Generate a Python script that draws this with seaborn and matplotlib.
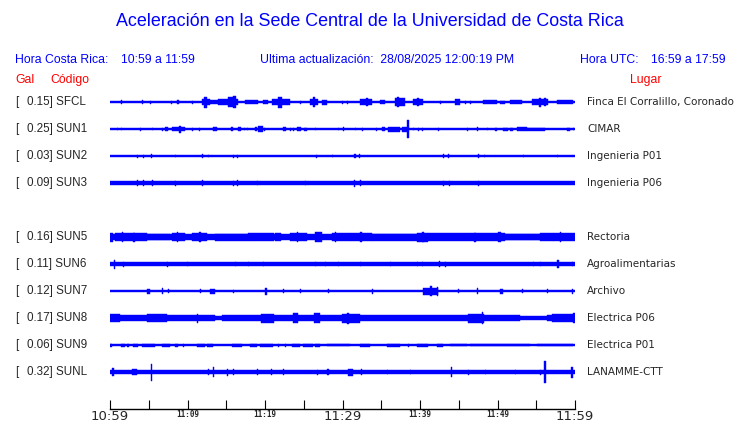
import numpy as np
import pandas as pd
import matplotlib
matplotlib.use("Agg")
import matplotlib.pyplot as plt
import seaborn as sns

# ===============================
# DATA (minutes after 10:59, half amplitude in px)
# ===============================
stations = ["SFCL", "SUN1", "SUN2", "SUN3", "SUN5", "SUN6", "SUN7", "SUN8", "SUN9", "SUNL"]
gal = [0.15, 0.25, 0.03, 0.09, 0.16, 0.11, 0.12, 0.17, 0.06, 0.32]
places = ["Finca El Corralillo, Coronado", "CIMAR", "Ingenieria P01", "Ingenieria P06",
          "Rectoria", "Agroalimentarias", "Archivo", "Electrica P06", "Electrica P01",
          "LANAMME-CTT"]
rows = [0, 1, 2, 3, 5, 6, 7, 8, 9, 10]
base_amp = [0.6, 0.6, 0.6, 1.7, 3.0, 1.7, 1.4, 2.2, 0.6, 2.0]

tick_minutes = list(range(0, 61, 5))
tick_labels = ["10:59", "", "11:09", "", "11:19", "", "11:29", "", "11:39", "", "11:49", "", "11:59"]
big_ticks = ["10:59", "11:29", "11:59"]

# (start, end, half amplitude)
sfcl_events = [
    (1.38, 1.38, 2), (4.13, 4.13, 2), (5.16, 5.16, 1.5), (7.87, 7.87, 1.5), (8.65, 8.9, 2),
    (10.58, 10.58, 1.5), (11.87, 12.13, 3), (12.13, 12.52, 5.5), (12.52, 12.9, 3),
    (12.9, 13.94, 2), (13.94, 15.23, 3), (15.23, 15.9, 5), (15.9, 16.3, 6), (16.3, 16.52, 3),
    (17.42, 19.1, 2), (19.74, 20.39, 2), (20.9, 21.68, 3), (21.68, 22.19, 5.5),
    (22.19, 23.23, 3), (24.52, 24.52, 1.5), (25.81, 26.19, 3), (26.19, 26.45, 5),
    (26.45, 26.84, 3), (27.35, 28.0, 2.5), (29.94, 29.94, 1.5), (30.58, 30.58, 1.5),
    (32.26, 33.81, 3), (33.0, 33.3, 4), (34.84, 35.48, 2), (36.77, 37.03, 4),
    (37.03, 37.3, 5), (37.3, 38.06, 4), (39.1, 40.39, 3), (39.6, 39.9, 4),
    (42.58, 42.58, 1.5), (44.52, 45.16, 3), (45.81, 45.81, 1.5), (46.45, 46.45, 1.5),
    (48.13, 49.94, 2), (50.32, 50.97, 1.5), (51.61, 53.16, 2), (54.45, 56.52, 3),
    (55.3, 55.6, 4.5), (56.0, 56.2, 4), (57.68, 59.74, 2),
]
sun1_events = [
    (0.9, 0.9, 1), (1.42, 1.42, 1), (3.87, 3.87, 1.5), (5.42, 5.42, 1), (6.71, 6.71, 1.5),
    (7.1, 7.48, 2), (8.0, 9.68, 2), (8.9, 9.2, 3.5), (10.58, 10.58, 1.5), (11.48, 11.48, 1.5),
    (13.29, 13.81, 2), (15.61, 15.87, 2), (16.52, 16.9, 2), (17.29, 17.29, 1),
    (17.68, 17.68, 1), (18.71, 18.97, 2), (19.1, 19.74, 3), (19.87, 19.87, 1.5),
    (22.32, 22.71, 2), (23.23, 23.23, 1.5), (23.61, 23.61, 1.5), (24.13, 24.65, 2),
    (25.03, 25.42, 1.5), (26.45, 26.45, 1), (29.42, 29.42, 1), (30.06, 30.06, 2),
    (31.61, 31.61, 1), (32.52, 32.52, 1.5), (34.32, 34.32, 1.5), (35.1, 35.48, 2),
    (35.87, 37.42, 2.5), (37.68, 38.45, 2.5), (38.36, 38.36, 9), (39.1, 39.1, 1),
    (39.74, 39.74, 1.5), (40.26, 40.26, 1.5), (42.32, 42.32, 1.5), (46.06, 46.06, 1.5),
    (47.35, 47.48, 2), (48.65, 48.65, 1), (49.68, 49.94, 1.5), (50.71, 51.35, 1.5),
    (51.61, 52.0, 1.5), (52.52, 53.81, 2), (53.81, 56.13, 1.5), (58.97, 59.35, 1.5),
    (59.74, 59.74, 1),
]
sun2_events = [
    (3.48, 3.48, 1.5), (4.26, 4.26, 1.5), (5.29, 5.42, 2), (8.39, 8.39, 1), (11.87, 12.0, 2),
    (12.65, 12.65, 1), (15.87, 15.87, 1.5), (16.39, 16.39, 1.5), (26.58, 26.58, 1.5),
    (28.65, 28.65, 1), (31.48, 31.74, 2), (32.13, 32.13, 2), (42.97, 42.97, 2),
    (43.61, 43.61, 2), (47.48, 47.48, 2), (48.26, 48.26, 1), (53.29, 53.29, 1),
    (57.68, 57.68, 1),
]
sun3_events = [
    (3.48, 3.48, 3), (4.26, 4.26, 3), (5.42, 5.42, 3), (8.39, 8.39, 2.5), (11.87, 12.0, 3),
    (15.87, 15.87, 2.5), (16.39, 16.39, 3), (18.97, 18.97, 2), (25.16, 25.16, 2),
    (31.48, 31.48, 3.5), (32.26, 32.26, 3), (42.97, 42.97, 2.5), (43.74, 43.74, 2.5),
    (47.48, 47.48, 2.5),
]
sun5_events = [
    (0, 0.4, 4.5), (0.6, 4.8, 3.8), (1.5, 1.7, 5), (3.0, 3.2, 4.5), (4.8, 7.7, 3.4),
    (8.0, 9.7, 4), (8.6, 8.8, 5), (10.6, 12.5, 4), (11.5, 11.7, 5), (13.5, 17.8, 3.5),
    (17.8, 21.1, 3.8), (21.3, 22.0, 4), (23.2, 25.4, 4), (24.1, 24.3, 4.8),
    (26.5, 27.3, 5), (28.6, 31.0, 4), (29.0, 29.2, 5), (31.0, 33.8, 4), (32.2, 32.5, 5.3),
    (33.8, 39.6, 3.5), (39.6, 41.0, 4.5), (40.3, 40.5, 5), (41.0, 50.97, 3.8),
    (47.0, 47.2, 4.5), (50.1, 50.4, 4.8), (50.97, 55.5, 3.4), (55.5, 57.2, 3.6),
    (57.2, 60.0, 4), (58.0, 58.2, 4.8),
]
sun6_events = [
    (0.52, 0.52, 4.5), (1.68, 1.68, 2.5), (7.35, 7.35, 2.5), (9.94, 9.94, 2),
    (16.13, 16.13, 2), (17.81, 17.81, 2), (19.74, 19.74, 2), (26.45, 26.45, 2),
    (27.74, 27.74, 2), (29.42, 29.42, 2), (32.26, 32.26, 2), (36.13, 36.13, 2),
    (39.61, 39.61, 2), (40.26, 40.26, 2), (42.45, 42.45, 3), (43.23, 43.4, 2.5),
    (54.58, 54.58, 2), (55.48, 55.48, 2), (57.7, 57.95, 4), (59.61, 59.61, 2),
]
sun7_events = [
    (4.77, 5.16, 2.5), (6.71, 6.71, 3), (7.48, 7.48, 2), (11.61, 11.61, 2),
    (12.9, 13.55, 2.5), (15.87, 15.87, 1.5), (20.0, 20.26, 3.5), (22.32, 22.32, 2),
    (24.52, 24.52, 2), (28.13, 28.13, 2), (33.81, 33.81, 2.5), (40.39, 42.32, 3.5),
    (41.3, 41.6, 5), (42.2, 42.35, 4.5), (44.9, 44.9, 2), (47.35, 47.35, 3),
    (50.32, 50.71, 2.5), (53.16, 53.16, 2), (56.39, 56.39, 2), (59.61, 59.61, 2.5),
]
sun8_events = [
    (0, 13.6, 3.2), (14.5, 52.9, 3.2), (56.4, 60.0, 3.4), (0, 1.3, 4), (4.8, 7.35, 4),
    (11.2, 11.4, 4.5), (19.5, 21.1, 4.5), (23.6, 24.2, 5), (26.3, 27.1, 5),
    (29.94, 32.26, 4.5), (30.6, 30.8, 5.5), (46.2, 48.3, 4.5), (48.0, 48.1, 6),
    (57.0, 60.0, 3.8), (59.7, 60.0, 5),
]
sun9_events = [
    (0, 0.26, 1.5), (1.42, 1.94, 1.5), (2.2, 2.45, 1.5), (2.97, 3.61, 1.5), (4.13, 5.81, 1.5),
    (6.71, 7.74, 1.5), (8.39, 8.77, 1.5), (9.4, 9.4, 1.5), (11.23, 12.26, 1.5),
    (12.52, 13.29, 1.5), (15.74, 17.03, 1.5), (18.06, 18.97, 1.5), (19.35, 21.03, 1.5),
    (21.68, 21.68, 1.5), (22.58, 22.58, 1.5), (23.48, 24.52, 1.5), (24.9, 26.19, 1.5),
    (26.45, 27.1, 1.5), (28.0, 30.97, 1.3), (32.26, 33.55, 1.5), (35.74, 37.42, 1.5),
    (38.45, 38.45, 1.5), (39.61, 41.03, 1.5), (42.19, 42.97, 1.5), (43.87, 46.06, 1.3),
    (46.45, 54.19, 1.3), (55.1, 59.74, 1.3),
]
sunl_events = [
    (0.26, 0.52, 4), (2.84, 3.48, 3), (5.25, 5.25, 8.5), (12.65, 12.65, 3), (13.29, 13.29, 5),
    (15.1, 15.1, 3.5), (15.87, 15.87, 3), (18.97, 18.97, 3), (20.77, 20.77, 3),
    (22.32, 22.32, 3), (26.71, 26.71, 2.5), (28.0, 28.2, 3), (30.71, 31.35, 3.5),
    (32.39, 32.39, 3), (35.74, 35.74, 2), (38.71, 38.71, 2), (43.97, 44.13, 5),
    (46.19, 46.19, 2.5), (48.39, 48.39, 2), (52.26, 52.26, 2), (55.48, 55.48, 2.5),
    (56.04, 56.04, 11), (59.5, 59.74, 5.5),
]
events = [sfcl_events, sun1_events, sun2_events, sun3_events, sun5_events,
          sun6_events, sun7_events, sun8_events, sun9_events, sunl_events]

# ===============================
# STYLE
# ===============================
sns.set_style("white")
plt.rcParams["font.family"] = ["Liberation Sans", "DejaVu Sans"]
BLUE = "#0000ff"
W, H = 740, 423


def fx(px):
    return px / W


def fy(py):
    return 1 - py / H


fig = plt.figure(figsize=(7.4, 4.23), dpi=100)
ax = fig.add_axes([fx(110), fy(409), (575 - 110) / W, (409 - 85) / H])
ax.set_xlim(0, 60)
ax.set_ylim(409, 85)

# ===============================
# TRACES
# ===============================
for i, name in enumerate(stations):
    yc = 102 + 27 * rows[i]
    df = pd.DataFrame(events[i], columns=["t0", "t1", "amp"])
    width = np.maximum(df["t1"] - df["t0"], 0.17)
    ax.bar(0, 2 * base_amp[i], width=60, bottom=yc - base_amp[i], align="edge",
           color=BLUE, linewidth=0.3, edgecolor=BLUE)
    ax.bar(df["t0"], 2 * df["amp"], width=width, bottom=yc - df["amp"], align="edge",
           color=BLUE, linewidth=0.3, edgecolor=BLUE)

    fig.text(fx(15), fy(yc), "[", fontsize=8.4, va="center", ha="left")
    fig.text(fx(27), fy(yc), f"{gal[i]:.2f}] {name}", fontsize=8.4, va="center", ha="left")
    fig.text(fx(587), fy(yc), places[i], fontsize=7.5, va="center", ha="left",
             family="DejaVu Sans")

# ===============================
# AXIS
# ===============================
for side in ["top", "left", "right"]:
    ax.spines[side].set_visible(False)
ax.spines["bottom"].set_color("black")
ax.spines["bottom"].set_linewidth(1.0)
ax.set_yticks([])
ax.set_xticks(tick_minutes)
ax.set_xticklabels(tick_labels)
ax.tick_params(axis="x", bottom=True, direction="in", length=6.5, width=0.8,
               color="black", pad=1)
for lab in ax.get_xticklabels():
    if lab.get_text() in big_ticks:
        lab.set_fontsize(9.5)
        lab.set_family("DejaVu Sans")
    else:
        lab.set_fontsize(5.5)
        lab.set_family("DejaVu Sans Mono")
        lab.set_fontweight("bold")

# ===============================
# HEADER TEXT
# ===============================
fig.text(0.5, fy(22), "Aceleración en la Sede Central de la Universidad de Costa Rica",
         color=BLUE, fontsize=12.9, ha="center", va="center")
fig.text(fx(15), fy(60), "Hora Costa Rica:", color=BLUE, fontsize=8.8, va="center")
fig.text(fx(121), fy(60), "10:59 a 11:59", color=BLUE, fontsize=8.8, va="center")
fig.text(fx(260), fy(60), "Ultima actualización:  28/08/2025 12:00:19 PM", color=BLUE,
         fontsize=8.8, va="center")
fig.text(fx(580), fy(60), "Hora UTC:", color=BLUE, fontsize=8.8, va="center")
fig.text(fx(651), fy(60), "16:59 a 17:59", color=BLUE, fontsize=8.8, va="center")
fig.text(fx(15), fy(80), "Gal", color="red", fontsize=8.8, va="center")
fig.text(fx(50), fy(80), "Código", color="red", fontsize=8.8, va="center")
fig.text(fx(630), fy(80), "Lugar", color="red", fontsize=8.8, va="center")

fig.savefig("out.png", dpi=100)
